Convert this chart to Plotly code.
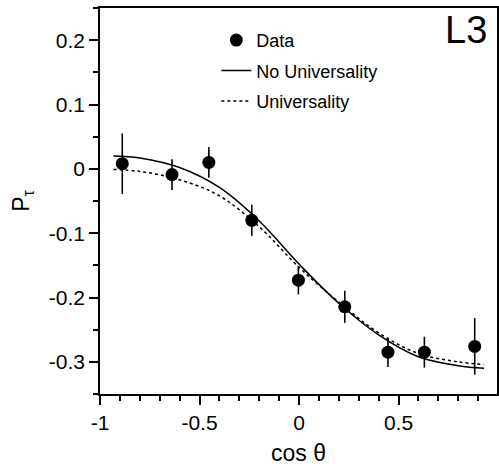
import plotly.graph_objects as go

# Data points
cos_theta = [-0.888, -0.638, -0.453, -0.237, -0.003, 0.230, 0.447, 0.630, 0.883]
p_tau = [0.008, -0.009, 0.010, -0.080, -0.173, -0.2145, -0.285, -0.285, -0.276]
p_err = [0.047, 0.024, 0.024, 0.024, 0.022, 0.025, 0.023, 0.024, 0.044]

# Curves
curve_x = [-0.933, -0.8, -0.6, -0.4, -0.2, 0.0, 0.2, 0.4, 0.6, 0.8, 0.93]
no_univ = [0.020, 0.017, 0.002, -0.029, -0.081, -0.148, -0.209, -0.258, -0.292, -0.306, -0.310]
univ = [-0.001, -0.004, -0.017, -0.042, -0.090, -0.153, -0.207, -0.255, -0.287, -0.300, -0.304]

# Ticks
x_tickvals = [-1, -0.5, 0, 0.5, 1]
x_ticktext = ["-1", "-0.5", "0", "0.5", "1"]
y_tickvals = [-0.3, -0.2, -0.1, 0, 0.1, 0.2]
y_ticktext = ["-0.3", "-0.2", "-0.1", "0", "0.1", "0.2"]

FONT = "Liberation Sans, Arial, Helvetica, sans-serif"

fig = go.Figure()
fig.add_trace(go.Scatter(
    x=cos_theta, y=p_tau, mode="markers", name="Data", legendgroup="a",
    marker=dict(color="black", size=13),
    error_y=dict(type="data", array=p_err, color="black", thickness=1.6, width=0),
))
fig.add_trace(go.Scatter(
    x=curve_x, y=no_univ, mode="lines", name="No Universality", legendgroup="b",
    line=dict(color="black", width=1.5, shape="spline"),
))
fig.add_trace(go.Scatter(
    x=curve_x, y=univ, mode="lines", name="Universality", legendgroup="c",
    line=dict(color="black", width=1.5, shape="spline", dash="3px,3px"),
))

fig.update_layout(
    width=499, height=467,
    margin=dict(l=100, r=0, t=8, b=73),
    paper_bgcolor="white", plot_bgcolor="white",
    font=dict(family=FONT, color="black"),
    showlegend=True,
    legend=dict(
        x=0.293, y=0.964, xanchor="left", yanchor="top",
        font=dict(size=18, family=FONT, color="black"),
        bgcolor="rgba(0,0,0,0)", tracegroupgap=4, itemwidth=30,
    ),
    annotations=[dict(
        text="L3", x=0.979, y=0.943, xref="paper", yref="paper",
        xanchor="right", yanchor="middle", showarrow=False,
        font=dict(size=38, family=FONT, color="black"),
    )],
)

fig.update_xaxes(
    range=[-1, 0.995], showgrid=False, zeroline=False,
    showline=True, linecolor="black", linewidth=1.5, mirror=True,
    ticks="outside", ticklen=9, tickwidth=1.5, tickcolor="black",
    tickvals=x_tickvals, ticktext=x_ticktext,
    tickfont=dict(size=21, family=FONT, color="black"),
    minor=dict(dtick=0.1, tick0=0, ticks="outside", ticklen=5, tickwidth=1.5, tickcolor="black"),
    title=dict(text="cos θ", font=dict(size=23, family=FONT, color="black"), standoff=12),
)
fig.update_yaxes(
    range=[-0.35, 0.25], showgrid=False, zeroline=False,
    showline=True, linecolor="black", linewidth=1.5, mirror=True,
    ticks="outside", ticklen=9, tickwidth=1.5, tickcolor="black",
    tickvals=y_tickvals, ticktext=y_ticktext,
    tickfont=dict(size=21, family=FONT, color="black"),
    minor=dict(dtick=0.05, tick0=0, ticks="outside", ticklen=5, tickwidth=1.5, tickcolor="black"),
    title=dict(text="P<sub>τ</sub>", font=dict(size=23, family=FONT, color="black"), standoff=13),
)

fig.write_html(
    "out.html",
    config={"displayModeBar": False},
    post_script="document.body.style.margin='0';document.body.style.padding='0';document.body.style.overflow='hidden';",
)
